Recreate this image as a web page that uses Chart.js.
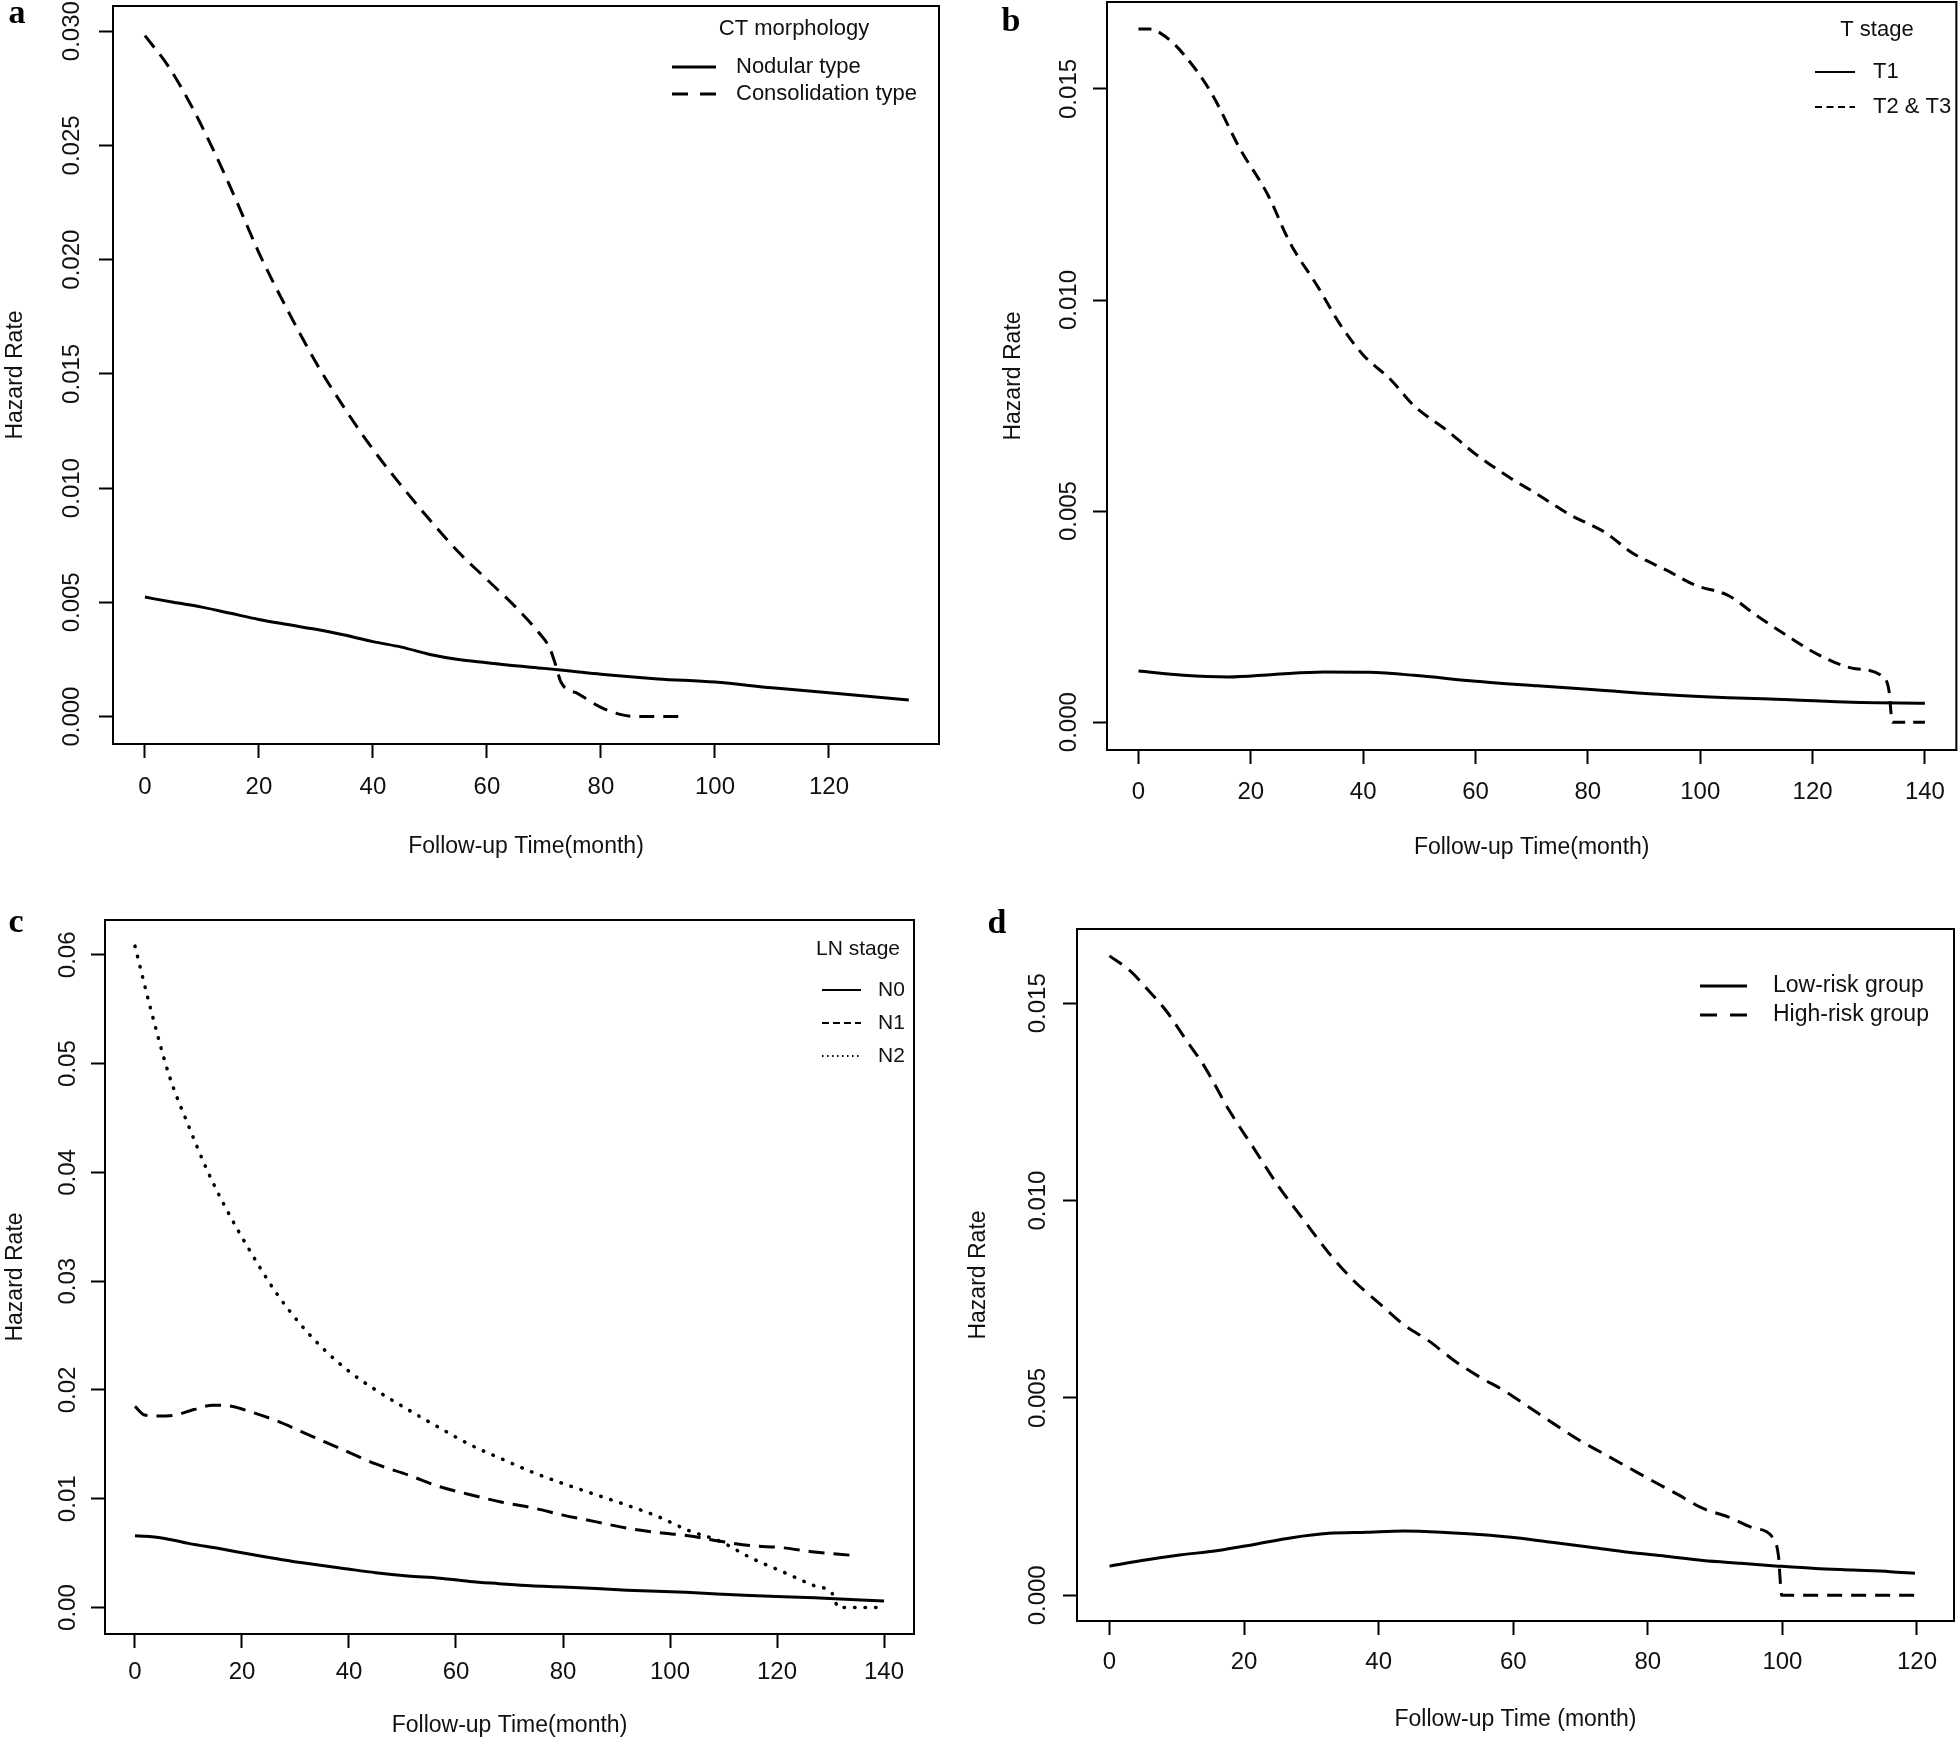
<!DOCTYPE html>
<html>
<head>
<meta charset="utf-8">
<script src="https://cdn.jsdelivr.net/npm/chart.js@4.4.1/dist/chart.umd.min.js"></script>
<style>
  body { margin: 0; background: #fff; width: 1959px; height: 1740px; position: relative; overflow: hidden; }
  canvas { position: absolute; }
</style>
</head>
<body>
<canvas id="chartA" width="980" height="870" style="left:0px;top:0px"></canvas>
<canvas id="chartB" width="979" height="870" style="left:980px;top:0px"></canvas>
<canvas id="chartC" width="980" height="860" style="left:0px;top:880px"></canvas>
<canvas id="chartD" width="1009" height="860" style="left:950px;top:880px"></canvas>
<script>
// ---- panel a: CT morphology ----
const monthsNodular = [0, 5, 10, 15, 20, 25, 30, 35, 40, 45, 50, 55, 60, 65, 70, 75, 80, 90, 100, 110, 120, 134];
const hazardNodular = [0.00523, 0.0050, 0.00479, 0.00452, 0.00425, 0.00403, 0.00382, 0.00357, 0.00328, 0.00304, 0.00272, 0.0025, 0.00236, 0.00222, 0.00211, 0.00198, 0.00185, 0.00165, 0.00151, 0.00126, 0.00104, 0.00073];
const monthsConsol = [0, 4, 8, 12, 16, 20, 25, 30, 35, 40, 45, 50, 55, 60, 65, 69, 71, 72, 73, 76, 80, 83, 86, 95];
const hazardConsol = [0.0298, 0.0285, 0.0268, 0.0248, 0.0226, 0.0203, 0.0178, 0.0155, 0.0135, 0.0117, 0.0101, 0.0086, 0.0072, 0.0060, 0.0048, 0.0037, 0.0030, 0.0023, 0.0015, 0.0010, 0.0004, 0.00012, 0, 0];
const xTicksA = [0, 20, 40, 60, 80, 100, 120];
const yTicksA = [0, 0.005, 0.010, 0.015, 0.020, 0.025, 0.030];
const yLabelsA = ['0.000', '0.005', '0.010', '0.015', '0.020', '0.025', '0.030'];

// ---- panel b: T stage ----
const monthsT1 = [0, 8, 16, 24, 33, 41, 49, 60, 71, 83, 94, 105, 116, 127, 140];
const hazardT1 = [0.00121, 0.00111, 0.00107, 0.00113, 0.00119, 0.00118, 0.00111, 0.00097, 0.00086, 0.00075, 0.00065, 0.00058, 0.00053, 0.00047, 0.00045];
const monthsT23 = [0, 2, 5, 8, 13, 18, 23, 27, 32, 36, 40, 45, 49, 55, 60, 66, 71, 77, 83, 88, 94, 99, 105, 110, 116, 121, 127, 132.5, 133.6, 134.2, 140];
const hazardT23 = [0.01642, 0.01642, 0.01622, 0.01583, 0.0149, 0.0136, 0.0125, 0.01135, 0.0103, 0.0094, 0.0087, 0.0081, 0.0075, 0.0069, 0.00635, 0.0058, 0.0054, 0.0049, 0.0045, 0.0040, 0.0036, 0.00325, 0.0030, 0.00253, 0.0020, 0.0016, 0.00128, 0.00108, 0.00075, 0, 0];
const xTicksB = [0, 20, 40, 60, 80, 100, 120, 140];
const yTicksB = [0, 0.005, 0.010, 0.015];
const yLabelsB = ['0.000', '0.005', '0.010', '0.015'];

// ---- panel c: LN stage ----
const monthsN0 = [0, 5, 10, 16, 21.6, 27.5, 33, 39, 45, 51, 57, 62.5, 68, 74, 80, 92, 103, 115, 127, 140];
const hazardN0 = [0.0066, 0.0064, 0.0059, 0.0054, 0.0049, 0.0044, 0.0040, 0.0036, 0.0032, 0.0029, 0.0027, 0.0024, 0.0022, 0.0020, 0.0019, 0.0016, 0.0014, 0.0011, 0.0009, 0.0006];
const monthsN1 = [0, 1.8, 4, 7.6, 11, 14.6, 18, 21.6, 26.3, 31, 35.6, 40.3, 45, 51, 57, 62.5, 68.4, 74, 80, 86, 92, 97.6, 103.4, 109.3, 115, 121, 127, 134];
const hazardN1 = [0.0185, 0.0177, 0.0176, 0.0177, 0.0182, 0.0186, 0.0185, 0.0180, 0.0172, 0.0162, 0.0152, 0.0142, 0.0132, 0.0122, 0.0111, 0.0104, 0.0097, 0.0092, 0.0085, 0.0079, 0.0073, 0.0069, 0.0066, 0.0061, 0.0057, 0.0055, 0.0051, 0.0048];
const monthsN2 = [0, 3, 6.4, 10, 13.4, 17, 21.6, 26.3, 31, 35.6, 40.3, 45, 51, 57, 62.5, 68.4, 74, 80, 86, 92, 97.6, 103.4, 109.3, 115, 121, 127, 130.3, 131.5, 140];
const hazardN2 = [0.0608, 0.0549, 0.0489, 0.0443, 0.0403, 0.0367, 0.0327, 0.0290, 0.0260, 0.0236, 0.0216, 0.0200, 0.0182, 0.0165, 0.0150, 0.0137, 0.0125, 0.0114, 0.0104, 0.0094, 0.0084, 0.0071, 0.0061, 0.0046, 0.0033, 0.0020, 0.0013, 0, 0];
const xTicksC = [0, 20, 40, 60, 80, 100, 120, 140];
const yTicksC = [0, 0.01, 0.02, 0.03, 0.04, 0.05, 0.06];
const yLabelsC = ['0.00', '0.01', '0.02', '0.03', '0.04', '0.05', '0.06'];

// ---- panel d: risk groups ----
const monthsLow = [0, 4.8, 10.4, 15.9, 21.5, 27.1, 32.6, 38.2, 43.7, 49.3, 54.9, 60.4, 66, 71.5, 77.1, 82.7, 88.2, 93.8, 99.4, 104.9, 110.5, 116, 119.7];
const hazardLow = [0.00074, 0.00088, 0.00102, 0.00113, 0.00129, 0.00146, 0.00157, 0.0016, 0.00163, 0.0016, 0.00154, 0.00146, 0.00134, 0.00122, 0.00109, 0.00099, 0.00088, 0.00081, 0.00074, 0.00068, 0.00064, 0.0006, 0.00056];
const monthsHigh = [0, 3, 5.7, 8.5, 11.3, 14.1, 17.8, 21.5, 25.2, 28.9, 32.6, 36.3, 40, 43.7, 47.5, 51.2, 54.9, 58.6, 62.3, 66, 69.7, 73.4, 77.1, 80.8, 84.5, 88.2, 91.9, 95.6, 98.4, 99.4, 99.9, 120.7];
const hazardHigh = [0.0162, 0.01583, 0.01534, 0.01479, 0.01409, 0.0134, 0.01228, 0.01131, 0.01034, 0.0095, 0.00867, 0.00797, 0.00741, 0.00686, 0.00644, 0.00595, 0.00554, 0.00519, 0.00477, 0.00435, 0.00394, 0.00359, 0.00324, 0.00289, 0.00255, 0.0022, 0.00199, 0.00171, 0.0015, 0.00102, 0, 0];
const xTicksD = [0, 20, 40, 60, 80, 100, 120];
const yTicksD = [0, 0.005, 0.010, 0.015];
const yLabelsD = ['0.000', '0.005', '0.010', '0.015'];

const FONT = '"Liberation Sans", Arial, sans-serif';
const INK = '#111';

function pairs(xs, ys) {
  return xs.map((x, i) => ({ x: x, y: ys[i] }));
}

function curve(label, xs, ys, dash, round) {
  return {
    label: label,
    data: pairs(xs, ys),
    borderColor: '#000',
    borderWidth: round ? 3.5 : 3,
    borderDash: dash,
    borderCapStyle: round ? 'round' : 'butt',
    pointRadius: 0,
    cubicInterpolationMode: 'monotone',
    fill: false
  };
}

// draws the R style box, rotated y tick labels, legend and panel letter
function rPlot(p) {
  return {
    id: 'rPlot',
    afterDraw(chart) {
      const ctx = chart.ctx;
      const a = chart.chartArea;
      const ox = p.canvas.left, oy = p.canvas.top;
      ctx.save();
      ctx.strokeStyle = '#000';
      ctx.lineWidth = 2;
      ctx.setLineDash([]);
      ctx.strokeRect(a.left, a.top, a.right - a.left, a.bottom - a.top);

      const ys = chart.scales.y;
      ctx.fillStyle = INK;
      ctx.font = '24px ' + FONT;
      ctx.textAlign = 'center';
      ctx.textBaseline = 'middle';
      p.yTicks.forEach((v, i) => {
        ctx.save();
        ctx.translate(p.yLabelX - ox, ys.getPixelForValue(v));
        ctx.rotate(-Math.PI / 2);
        ctx.fillText(p.yLabels[i], 0, 0);
        ctx.restore();
      });

      const lg = p.legend;
      ctx.font = lg.size + 'px ' + FONT;
      if (lg.title) {
        ctx.textAlign = 'center';
        ctx.fillText(lg.title, lg.titleX - ox, lg.titleY - oy);
      }
      ctx.textAlign = 'left';
      lg.items.forEach((it, i) => {
        const y = lg.rows[i] - oy;
        ctx.beginPath();
        ctx.lineWidth = lg.lineWidth;
        ctx.lineCap = 'butt';
        ctx.setLineDash(it.dash);
        ctx.moveTo(lg.x1 - ox, y);
        ctx.lineTo(lg.x2 - ox, y);
        ctx.stroke();
        ctx.fillText(it.text, lg.textX - ox, y);
      });

      ctx.font = 'bold 34px "Liberation Serif", "Times New Roman", serif';
      ctx.textAlign = 'center';
      ctx.fillStyle = '#000';
      ctx.fillText(p.letter.text, p.letter.x - ox, p.letter.y - oy);
      ctx.restore();
    }
  };
}

function makePanel(id, p) {
  const c = p.canvas;
  const el = document.getElementById(id);
  return new Chart(el.getContext('2d'), {
    type: 'line',
    data: { datasets: p.datasets },
    options: {
      responsive: false,
      animation: false,
      layout: {
        padding: { left: 0, top: p.box.T - c.top, right: c.left + c.w - p.box.R, bottom: 0 }
      },
      plugins: { legend: { display: false }, tooltip: { enabled: false } },
      scales: {
        x: {
          type: 'linear',
          min: p.xMin,
          max: p.xMax,
          afterBuildTicks: s => { s.ticks = p.xTicks.map(v => ({ value: v })); },
          afterFit: s => { s.height = c.top + c.h - p.box.B; },
          ticks: {
            autoSkip: false, maxRotation: 0, padding: p.xTickPad,
            color: INK, font: { family: FONT, size: 24 },
            callback: v => String(v)
          },
          grid: { drawOnChartArea: false, drawTicks: true, tickLength: 14, tickWidth: 2, tickColor: '#000' },
          border: { display: false },
          title: {
            display: true, text: p.xTitle, color: INK,
            font: { family: FONT, size: 23 },
            padding: { top: 0, bottom: p.xTitlePad }
          }
        },
        y: {
          type: 'linear',
          min: p.yMin,
          max: p.yMax,
          afterBuildTicks: s => { s.ticks = p.yTicks.map(v => ({ value: v })); },
          afterFit: s => { s.width = p.box.L - c.left; },
          ticks: { display: false },
          grid: { drawOnChartArea: false, drawTicks: true, tickLength: 14, tickWidth: 2, tickColor: '#000' },
          border: { display: false },
          title: {
            display: true, text: 'Hazard Rate', color: INK,
            font: { family: FONT, size: 23 },
            padding: { top: p.yTitlePad, bottom: 0 }
          }
        }
      }
    },
    plugins: [rPlot(p)]
  });
}

makePanel('chartA', {
  canvas: { left: 0, top: 0, w: 980, h: 870 },
  box: { L: 113, T: 6, R: 939, B: 744 },
  xMin: -5.6, xMax: 139.3, yMin: -0.0012, yMax: 0.0311,
  xTicks: xTicksA, yTicks: yTicksA, yLabels: yLabelsA,
  xTickPad: 15, xTitlePad: 10, yTitlePad: 2, yLabelX: 72,
  xTitle: 'Follow-up Time(month)',
  datasets: [
    curve('Nodular type', monthsNodular, hazardNodular, []),
    curve('Consolidation type', monthsConsol, hazardConsol, [15, 9])
  ],
  legend: {
    size: 22, title: 'CT morphology', titleX: 794, titleY: 29,
    x1: 672, x2: 716, textX: 736, rows: [67, 94], lineWidth: 3,
    items: [{ text: 'Nodular type', dash: [] }, { text: 'Consolidation type', dash: [16, 12] }]
  },
  letter: { text: 'a', x: 17, y: 14 }
});

makePanel('chartB', {
  canvas: { left: 980, top: 0, w: 979, h: 870 },
  box: { L: 1107, T: 2, R: 1957, B: 750 },
  xMin: -5.6, xMax: 145.6, yMin: -0.00066, yMax: 0.01706,
  xTicks: xTicksB, yTicks: yTicksB, yLabels: yLabelsB,
  xTickPad: 14, xTitlePad: 9, yTitlePad: 20, yLabelX: 1069,
  xTitle: 'Follow-up Time(month)',
  datasets: [
    curve('T1', monthsT1, hazardT1, []),
    curve('T2 & T3', monthsT23, hazardT23, [13, 8])
  ],
  legend: {
    size: 22, title: 'T stage', titleX: 1877, titleY: 30,
    x1: 1815, x2: 1855, textX: 1873, rows: [72, 107], lineWidth: 2,
    items: [{ text: 'T1', dash: [] }, { text: 'T2 & T3', dash: [7, 4.5] }]
  },
  letter: { text: 'b', x: 1011, y: 22 }
});

makePanel('chartC', {
  canvas: { left: 0, top: 880, w: 980, h: 860 },
  box: { L: 105, T: 920, R: 914, B: 1634 },
  xMin: -5.6, xMax: 145.6, yMin: -0.00243, yMax: 0.0632,
  xTicks: xTicksC, yTicks: yTicksC, yLabels: yLabelsC,
  xTickPad: 10, xTitlePad: 1, yTitlePad: 2, yLabelX: 68,
  xTitle: 'Follow-up Time(month)',
  datasets: [
    curve('N0', monthsN0, hazardN0, []),
    curve('N1', monthsN1, hazardN1, [16, 9]),
    curve('N2', monthsN2, hazardN2, [0.5, 10], true)
  ],
  legend: {
    size: 21, title: 'LN stage', titleX: 858, titleY: 949,
    x1: 822, x2: 861, textX: 878, rows: [990, 1023, 1056], lineWidth: 2,
    items: [{ text: 'N0', dash: [] }, { text: 'N1', dash: [7, 4] }, { text: 'N2', dash: [1.5, 3.5] }]
  },
  letter: { text: 'c', x: 16, y: 923 }
});

makePanel('chartD', {
  canvas: { left: 950, top: 880, w: 1009, h: 860 },
  box: { L: 1077, T: 929, R: 1954, B: 1621 },
  xMin: -4.83, xMax: 125.5, yMin: -0.00065, yMax: 0.01688,
  xTicks: xTicksD, yTicks: yTicksD, yLabels: yLabelsD,
  xTickPad: 13, xTitlePad: 7, yTitlePad: 15, yLabelX: 1038,
  xTitle: 'Follow-up Time (month)',
  datasets: [
    curve('Low-risk group', monthsLow, hazardLow, []),
    curve('High-risk group', monthsHigh, hazardHigh, [15, 9])
  ],
  legend: {
    size: 23, title: '', titleX: 0, titleY: 0,
    x1: 1700, x2: 1747, textX: 1773, rows: [986, 1015], lineWidth: 3,
    items: [{ text: 'Low-risk group', dash: [] }, { text: 'High-risk group', dash: [17, 13] }]
  },
  letter: { text: 'd', x: 997, y: 924 }
});
</script>
</body>
</html>
